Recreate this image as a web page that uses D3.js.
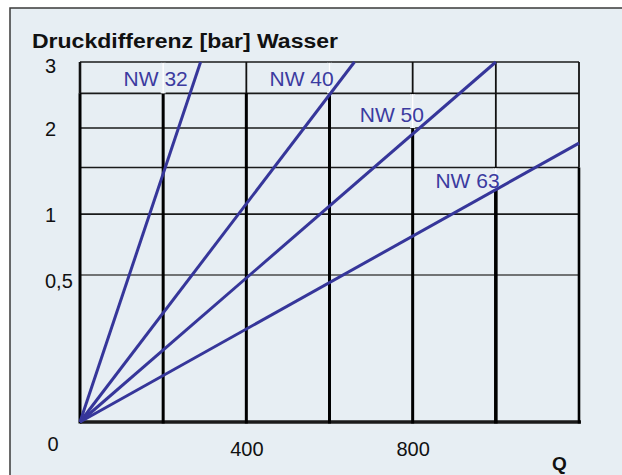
<!DOCTYPE html>
<html>
<head>
<meta charset="utf-8">
<script src="https://cdn.jsdelivr.net/npm/d3@7"></script>
<style>
  html, body { margin: 0; padding: 0; background: #ffffff; }
  svg { display: block; font-family: "Liberation Sans", Arial, sans-serif; }
</style>
</head>
<body>
<svg id="chart" width="622" height="475"></svg>
<script>
// ---- data ----
const seriesNames = ["NW 32", "NW 40", "NW 50", "NW 63"];
// end points of each straight curve (Q, pressure difference in bar), all start at origin
const endQ = [290, 660, 1000, 1200];
const endP = [3, 3, 3, 1.8];
// label anchors (data units: Q centre, bar at baseline)
const labelQ = [182, 533, 750, 932];
const labelP = [2.61, 2.61, 2.08, 1.27];
const xGrid = [0, 200, 400, 600, 800, 1000, 1200];
const yGrid = [0, 0.5, 1, 1.5, 2, 2.5, 3];
const xTickLabels = [400, 800];
const yTickLabels = [3, 2, 1, 0.5];
const titleText = "Druckdifferenz [bar] Wasser";
const xTitle = "Q";

// ---- layout ----
const svg = d3.select("#chart");
const bg = "#e7eef3";
const lineColor = "#36369a";
const x = d3.scaleLinear().domain([0, 1200]).range([80, 579]);
const y = d3.scaleSqrt().domain([0, 3]).range([422, 62]);

// frame
svg.append("rect").attr("x", 10).attr("y", 8).attr("width", 640).attr("height", 500)
  .attr("fill", bg).attr("stroke", "#3a3a3a").attr("stroke-width", 1.5);

// title
svg.append("text").attr("x", 32).attr("y", 47.5)
  .attr("font-size", 20).attr("font-weight", "bold").attr("fill", "#111")
  .attr("textLength", 306).attr("lengthAdjust", "spacingAndGlyphs")
  .text(titleText);

// horizontal grid
const g = svg.append("g");
g.selectAll("line.h").data(yGrid).join("line").attr("class", "h")
  .attr("x1", x(0)).attr("x2", d => d === 0 ? x(1200) + 2 : x(1200))
  .attr("y1", d => y(d)).attr("y2", d => y(d))
  .attr("stroke", d => d === 0.5 ? "#4a4a4a" : "#1a1a1a")
  .attr("stroke-width", d => d === 0 ? 3.5 : 1.6);

// vertical grid: thinner in upper part, thicker in lower part
const splitP = q => (q >= 1000 ? 1.5 : 2.5);
g.selectAll("line.vu").data(xGrid).join("line").attr("class", "vu")
  .attr("x1", d => x(d)).attr("x2", d => x(d))
  .attr("y1", y(3)).attr("y2", d => y(splitP(d)))
  .attr("stroke", "#111").attr("stroke-width", d => d === 0 ? 2.6 : 1.8);
g.selectAll("line.vl").data(xGrid).join("line").attr("class", "vl")
  .attr("x1", d => x(d)).attr("x2", d => x(d))
  .attr("y1", d => y(splitP(d))).attr("y2", y(0) + 1.5)
  .attr("stroke", "#000").attr("stroke-width", d => d === 1000 ? 3.6 : (d === 1200 ? 2.6 : 3));

// label boxes interrupting the grid lines
const covers = [[200, 2.5, 3], [600, 2.5, 3], [800, 2.0, 2.5], [1000, 1.25, 1.5]];
const cg = svg.append("g");
cg.selectAll("rect").data(covers).join("rect")
  .attr("x", d => x(d[0]) - 2.5).attr("width", 5)
  .attr("y", d => y(d[2]) + 0.8).attr("height", d => y(d[1]) - y(d[2]) - 0.8)
  .attr("fill", bg);
cg.selectAll("line").data(covers).join("line")
  .attr("x1", d => x(d[0])).attr("x2", d => x(d[0]))
  .attr("y1", d => y(d[2]) + 0.8).attr("y2", d => y(d[1]))
  .attr("stroke", "#ffffff").attr("stroke-width", 1.3);

// series lines
svg.append("g").selectAll("line").data(seriesNames).join("line")
  .attr("x1", x(0)).attr("y1", y(0))
  .attr("x2", (d, i) => x(endQ[i])).attr("y2", (d, i) => y(endP[i]))
  .attr("stroke", lineColor).attr("stroke-width", 3);

// series labels
svg.append("g").selectAll("text").data(seriesNames).join("text")
  .attr("x", (d, i) => x(labelQ[i])).attr("y", (d, i) => y(labelP[i]))
  .attr("text-anchor", "middle").attr("font-size", 21).attr("fill", "#3b3ba0")
  .text(d => d);

// y axis labels
const yAxis = d3.axisLeft(y).tickValues(yTickLabels).tickSize(0)
  .tickFormat(d => String(d).replace(".", ","));
const ya = svg.append("g").attr("transform", `translate(${x(0)},0)`).call(yAxis);
ya.select(".domain").remove();
ya.selectAll("text").attr("text-anchor", "start").attr("x", -35)
  .attr("dy", "0.36em").attr("font-size", 20).attr("fill", "#111")
  .attr("font-family", "Liberation Sans, Arial, sans-serif");
ya.selectAll(".tick").filter(d => d === 3).select("text").attr("dy", "0.5em");
ya.selectAll(".tick").filter(d => d === 0.5).select("text").attr("dy", "0.6em");

// x axis labels
const xAxis = d3.axisBottom(x).tickValues(xTickLabels).tickSize(0);
const xa = svg.append("g").attr("transform", `translate(0,${y(0)})`).call(xAxis);
xa.select(".domain").remove();
xa.selectAll("text").attr("y", 34).attr("dy", 0).attr("font-size", 20).attr("fill", "#111")
  .attr("font-family", "Liberation Sans, Arial, sans-serif");

// origin label
svg.append("text").attr("x", x(0) - 27).attr("y", y(0) + 28.5)
  .attr("text-anchor", "middle").attr("font-size", 20).attr("fill", "#111").text("0");

// x title
svg.append("text").attr("x", 559.5).attr("y", 470)
  .attr("text-anchor", "middle").attr("font-size", 19).attr("font-weight", "bold")
  .attr("fill", "#111").text(xTitle);
</script>
</body>
</html>
